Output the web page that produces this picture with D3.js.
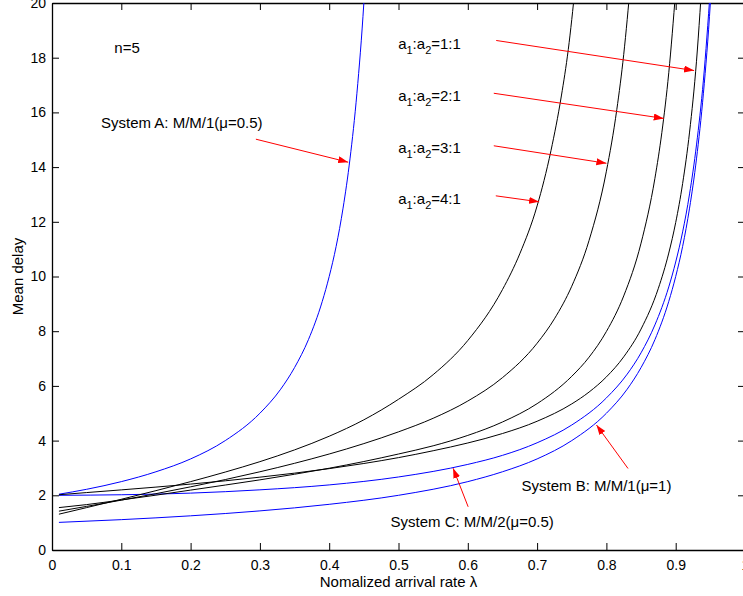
<!DOCTYPE html>
<html>
<head>
<meta charset="utf-8">
<script src="https://cdn.jsdelivr.net/npm/d3@7.9.0/dist/d3.min.js"></script>
<style>
  html, body { margin: 0; padding: 0; background: #fff; }
  svg { display: block; font-family: "Liberation Sans", Arial, Helvetica, sans-serif; }
  .axis text { font-size: 14px; fill: #000; }
  .axis path, .axis line { stroke: #000; }
  .note { font-size: 15px; fill: #000; }
</style>
</head>
<body>
<svg id="chart" width="743" height="596"></svg>
<script>
// values: [arrival rate, mean delay]
const systemA = [[0.01,2.04],[0.05,2.22],[0.1,2.5],[0.15,2.86],[0.2,3.33],[0.25,4.0],[0.3,5.0],
  [0.33,5.88],[0.35,6.67],[0.37,7.69],[0.39,9.09],[0.4,10.0],[0.41,11.1],[0.42,12.5],
  [0.43,14.3],[0.44,16.7],[0.45,20.0],[0.455,22.2]];
const systemB = [[0.01,1.01],[0.1,1.11],[0.2,1.25],[0.3,1.43],[0.4,1.67],[0.5,2.0],[0.6,2.5],
  [0.65,2.86],[0.7,3.33],[0.75,4.0],[0.8,5.0],[0.83,5.88],[0.85,6.67],[0.87,7.69],[0.89,9.09],
  [0.9,10.0],[0.91,11.1],[0.92,12.5],[0.93,14.3],[0.94,16.7],[0.95,20.0],[0.953,21.3]];
const systemC = [[0.01,2.0],[0.1,2.02],[0.2,2.08],[0.3,2.2],[0.4,2.38],[0.5,2.67],[0.6,3.13],
  [0.65,3.46],[0.7,3.92],[0.75,4.57],[0.8,5.56],[0.83,6.43],[0.85,7.21],[0.87,8.23],[0.89,9.62],
  [0.9,10.53],[0.91,11.63],[0.92,13.02],[0.93,14.81],[0.94,17.18],[0.95,20.51]];
const ratio11 = [[0.01,2.02],[0.05,2.1],[0.1,2.198],[0.15,2.3],[0.2,2.41],[0.25,2.53],[0.3,2.663],
  [0.35,2.81],[0.4,2.975],[0.45,3.163],[0.5,3.378],[0.55,3.629],[0.6,3.913],[0.65,4.258],
  [0.7,4.707],[0.75,5.342],[0.775,5.775],[0.8,6.329],[0.825,7.063],[0.85,8.078],[0.875,9.57],
  [0.89,10.857],[0.9,11.973],[0.91,13.4],[0.92,15.28],[0.93,17.87],[0.94,21.65]];
const ratio21 = [[0.01,1.55],[0.05,1.66],[0.1,1.83],[0.15,2.005],[0.2,2.19],[0.25,2.375],[0.3,2.565],
  [0.35,2.77],[0.4,2.99],[0.45,3.235],[0.5,3.51],[0.55,3.81],[0.6,4.19],[0.65,4.68],[0.7,5.35],
  [0.75,6.35],[0.775,7.05],[0.8,7.99],[0.825,9.29],[0.85,11.22],[0.87,13.59],[0.88,15.26],
  [0.89,17.45],[0.9,20.45]];
const ratio31 = [[0.01,1.42],[0.05,1.595],[0.1,1.8225],[0.15,2.06],[0.2,2.31],[0.25,2.575],[0.3,2.86],
  [0.35,3.17],[0.4,3.51],[0.45,3.89],[0.5,4.32],[0.55,4.816],[0.6,5.447],[0.65,6.301],[0.7,7.559],
  [0.725,8.453],[0.75,9.645],[0.775,11.32],[0.8,13.85],[0.815,16.1],[0.825,18.12],[0.835,20.79]];
const ratio41 = [[0.01,1.31],[0.05,1.55],[0.1,1.855],[0.15,2.17],[0.2,2.5],[0.25,2.85],[0.3,3.23],
  [0.35,3.66],[0.4,4.16],[0.45,4.76],[0.5,5.51],[0.55,6.41],[0.6,7.66],[0.65,9.52],[0.675,10.83],
  [0.7,12.58],[0.72,14.6],[0.735,16.6],[0.745,18.3],[0.755,20.6]];

const xTicks = [0, 0.1, 0.2, 0.3, 0.4, 0.5, 0.6, 0.7, 0.8, 0.9, 1];
const yTicks = [0, 2, 4, 6, 8, 10, 12, 14, 16, 18, 20];

// annotations, in data units
const ratioLabels = [
  { text: '1:1', x: 0.4995, y: 18.32, from: [0.641, 18.63], to: [0.9265, 17.53] },
  { text: '2:1', x: 0.4995, y: 16.41, from: [0.6375, 16.70], to: [0.8827, 15.78] },
  { text: '3:1', x: 0.4995, y: 14.51, from: [0.6375, 14.78], to: [0.8000, 14.14] },
  { text: '4:1', x: 0.4995, y: 12.64, from: [0.6404, 12.95], to: [0.7029, 12.73] }
];
const systemLabels = [
  { text: 'System A: M/M/1(\u03bc=0.5)', x: 0.0707, y: 15.44, from: [0.2942, 15.02], to: [0.4274, 14.18] },
  { text: 'System B: M/M/1(\u03bc=1)', x: 0.6775, y: 2.16, from: [0.8312, 2.98], to: [0.7857, 4.57] },
  { text: 'System C: M/M/2(\u03bc=0.5)', x: 0.4885, y: 0.83, from: [0.6005, 1.58], to: [0.5788, 2.99] }
];

const svg = d3.select('#chart');
const m = { left: 52, right: 745, top: 3, bottom: 550 };

const x = d3.scaleLinear().domain([0, 1]).range([m.left, m.right]);
const y = d3.scaleLinear().domain([0, 20]).range([m.bottom, m.top]);

const defs = svg.append('defs');
defs.append('clipPath').attr('id', 'plot')
  .append('rect')
  .attr('x', m.left).attr('y', m.top)
  .attr('width', m.right - m.left).attr('height', m.bottom - m.top);

defs.append('marker')
  .attr('id', 'head')
  .attr('markerUnits', 'userSpaceOnUse')
  .attr('markerWidth', 11).attr('markerHeight', 8)
  .attr('refX', 10).attr('refY', 3.5)
  .attr('orient', 'auto')
  .append('path')
  .attr('d', 'M0,0L10,3.5L0,7Z')
  .attr('fill', '#ff0000');

// axes, ticks pointing inward on all four sides
svg.append('g').attr('class', 'axis')
  .attr('transform', `translate(0,${m.bottom})`)
  .call(d3.axisBottom(x).tickValues(xTicks).tickFormat((d) => String(d))
    .tickSizeInner(-7).tickSizeOuter(0).tickPadding(10));
svg.append('g').attr('class', 'axis')
  .attr('transform', `translate(0,${m.top})`)
  .call(d3.axisTop(x).tickValues(xTicks).tickFormat('')
    .tickSizeInner(-7).tickSizeOuter(0));
svg.append('g').attr('class', 'axis')
  .attr('transform', `translate(${m.left},0)`)
  .call(d3.axisLeft(y).tickValues(yTicks).tickFormat((d) => String(d))
    .tickSizeInner(-7).tickSizeOuter(0).tickPadding(6));
svg.append('g').attr('class', 'axis')
  .attr('transform', `translate(${m.right},0)`)
  .call(d3.axisRight(y).tickValues(yTicks).tickFormat('')
    .tickSizeInner(-7).tickSizeOuter(0));

svg.selectAll('.axis path.domain').attr('stroke-width', 1.3);

// curves
const line = d3.line()
  .x((d) => x(d[0]))
  .y((d) => y(d[1]))
  .curve(d3.curveMonotoneX);

const series = [
  { data: systemA, color: '#0000ff' },
  { data: systemB, color: '#0000ff' },
  { data: systemC, color: '#0000ff' },
  { data: ratio11, color: '#000000' },
  { data: ratio21, color: '#000000' },
  { data: ratio31, color: '#000000' },
  { data: ratio41, color: '#000000' }
];

const curves = svg.append('g').attr('clip-path', 'url(#plot)');
series.forEach((s) => {
  curves.append('path')
    .attr('d', line(s.data))
    .attr('fill', 'none')
    .attr('stroke', s.color)
    .attr('stroke-width', 1);
});

// arrows
const arrows = ratioLabels.concat(systemLabels);
svg.append('g').selectAll('line')
  .data(arrows)
  .join('line')
  .attr('x1', (d) => x(d.from[0])).attr('y1', (d) => y(d.from[1]))
  .attr('x2', (d) => x(d.to[0])).attr('y2', (d) => y(d.to[1]))
  .attr('stroke', '#ff0000')
  .attr('stroke-width', 1)
  .attr('marker-end', 'url(#head)');

// text notes
svg.append('text').attr('class', 'note')
  .attr('x', x(0.0899)).attr('y', y(18.16))
  .text('n=5');

systemLabels.forEach((d) => {
  svg.append('text').attr('class', 'note')
    .attr('x', x(d.x)).attr('y', y(d.y))
    .text(d.text);
});

ratioLabels.forEach((d) => {
  const t = svg.append('text').attr('class', 'note')
    .attr('x', x(d.x)).attr('y', y(d.y));
  t.append('tspan').text('a');
  t.append('tspan').attr('dy', 5).style('font-size', '11px').text('1');
  t.append('tspan').attr('dy', -5).text(':a');
  t.append('tspan').attr('dy', 5).style('font-size', '11px').text('2');
  t.append('tspan').attr('dy', -5).text('=' + d.text);
});

// axis titles
svg.append('text').attr('class', 'note')
  .attr('x', (m.left + m.right) / 2).attr('y', 587)
  .attr('text-anchor', 'middle')
  .text('Nomalized arrival rate \u03bb');

svg.append('text').attr('class', 'note')
  .attr('transform', `translate(23,${(m.top + m.bottom) / 2}) rotate(-90)`)
  .attr('text-anchor', 'middle')
  .text('Mean delay');
</script>
</body>
</html>
